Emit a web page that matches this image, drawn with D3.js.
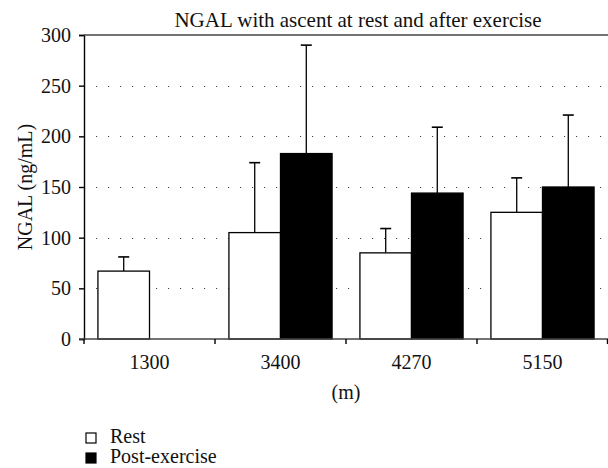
<!DOCTYPE html>
<html>
<head>
<meta charset="utf-8">
<script src="https://cdn.jsdelivr.net/npm/d3@7"></script>
<style>
  html, body { margin: 0; padding: 0; background: #fff; }
  svg { display: block; }
  text { font-family: "Liberation Serif", "DejaVu Serif", serif; fill: #111; }
</style>
</head>
<body>
<svg id="chart" width="608" height="468"></svg>
<script>
// ---- data ----
const categories = ["1300", "3400", "4270", "5150"];
const seriesNames = ["Rest", "Post-exercise"];
const restValues = [67, 105, 85, 125];
const restUpper = [81, 174, 109, 159];
const postValues = [null, 183, 144, 150];
const postUpper = [null, 290, 209, 221];
const yTicks = [0, 50, 100, 150, 200, 250, 300];
const titleText = "NGAL with ascent at rest and after exercise";
const yLabel = "NGAL (ng/mL)";
const xLabel = "(m)";

// ---- layout ----
const svg = d3.select("#chart");
const pLeft = 84, pRight = 608, pTop = 35, pBottom = 339;
const FS = "20px";

const x = d3.scaleBand().domain(categories).range([pLeft, pRight]).paddingInner(0).paddingOuter(0);
const xs = d3.scaleBand().domain(seriesNames).range([0, x.bandwidth()]).paddingOuter(0.27).paddingInner(0);
const y = d3.scaleLinear().domain([0, 300]).range([pBottom, pTop]);

// gridlines (dotted)
const grid = svg.append("g");
yTicks.filter(v => v > 0 && v < 300).forEach(v => {
  grid.append("line")
    .attr("x1", pLeft + 12).attr("x2", pRight)
    .attr("y1", Math.round(y(v)) + 0.5).attr("y2", Math.round(y(v)) + 0.5)
    .attr("stroke", "#444").attr("stroke-width", 1.1)
    .attr("stroke-dasharray", "1.1,10.9");
});

// bars
const rows = categories.map((c, i) => ({
  c,
  vals: [
    { s: seriesNames[0], v: restValues[i], e: restUpper[i] },
    { s: seriesNames[1], v: postValues[i], e: postUpper[i] }
  ]
}));
const fills = { "Rest": "#fff", "Post-exercise": "#000" };

const g = svg.append("g");
rows.forEach(r => {
  r.vals.forEach(d => {
    if (d.v == null) return;
    const bx = x(r.c) + xs(d.s);
    const bw = xs.bandwidth();
    const cx = bx + bw / 2;
    g.append("line").attr("x1", cx).attr("x2", cx)
      .attr("y1", y(d.v)).attr("y2", y(d.e))
      .attr("stroke", "#000").attr("stroke-width", 1.3);
    g.append("line").attr("x1", cx - 5.5).attr("x2", cx + 5.5)
      .attr("y1", y(d.e)).attr("y2", y(d.e))
      .attr("stroke", "#000").attr("stroke-width", 1.6);
    g.append("rect")
      .attr("x", bx).attr("y", y(d.v))
      .attr("width", bw).attr("height", y(0) - y(d.v))
      .attr("fill", fills[d.s]).attr("stroke", "#000").attr("stroke-width", 1.3);
  });
});

// y axis
const yAxis = d3.axisLeft(y).tickValues(yTicks).tickSize(5).tickPadding(8);
const ya = svg.append("g").attr("transform", `translate(${pLeft},0)`).call(yAxis);
ya.select(".domain").attr("stroke", "#000").attr("stroke-width", 1.4);
ya.selectAll(".tick line").attr("stroke", "#000").attr("stroke-width", 1.4);
ya.selectAll(".tick text").style("font-size", FS).style("font-family", '"Liberation Serif", serif');

// top border
svg.append("line").attr("x1", pLeft).attr("x2", pRight)
  .attr("y1", y(300)).attr("y2", y(300))
  .attr("stroke", "#444").attr("stroke-width", 1.6);

// x axis line
svg.append("line").attr("x1", pLeft - 5).attr("x2", pRight)
  .attr("y1", y(0)).attr("y2", y(0))
  .attr("stroke", "#444").attr("stroke-width", 1.6);
// x boundary ticks
const bounds = categories.map(c => x(c)).concat([x.range()[1] - 0.5]);
bounds.forEach(bx => {
  svg.append("line").attr("x1", bx).attr("x2", bx)
    .attr("y1", y(0)).attr("y2", y(0) + 5)
    .attr("stroke", "#000").attr("stroke-width", 1.4);
});
// x tick labels
categories.forEach(c => {
  svg.append("text").attr("x", x(c) + x.bandwidth() / 2).attr("y", 369)
    .attr("text-anchor", "middle").style("font-size", FS).text(c);
});

// axis labels & title
svg.append("text").attr("x", (pLeft + pRight) / 2).attr("y", 399)
  .attr("text-anchor", "middle").style("font-size", FS).text(xLabel);
svg.append("text")
  .attr("transform", `translate(32,187) rotate(-90)`)
  .attr("text-anchor", "middle").style("font-size", FS).text(yLabel);
svg.append("text").attr("x", 358).attr("y", 27)
  .attr("text-anchor", "middle").style("font-size", "21px").text(titleText);

// legend
const legend = svg.append("g");
seriesNames.forEach((s, i) => {
  const ly = 433 + i * 20;
  legend.append("rect").attr("x", 86).attr("y", ly).attr("width", 10).attr("height", 10)
    .attr("fill", fills[s]).attr("stroke", "#000").attr("stroke-width", 1.2);
  legend.append("text").attr("x", 110).attr("y", ly + 10).style("font-size", FS).text(s);
});
</script>
</body>
</html>
